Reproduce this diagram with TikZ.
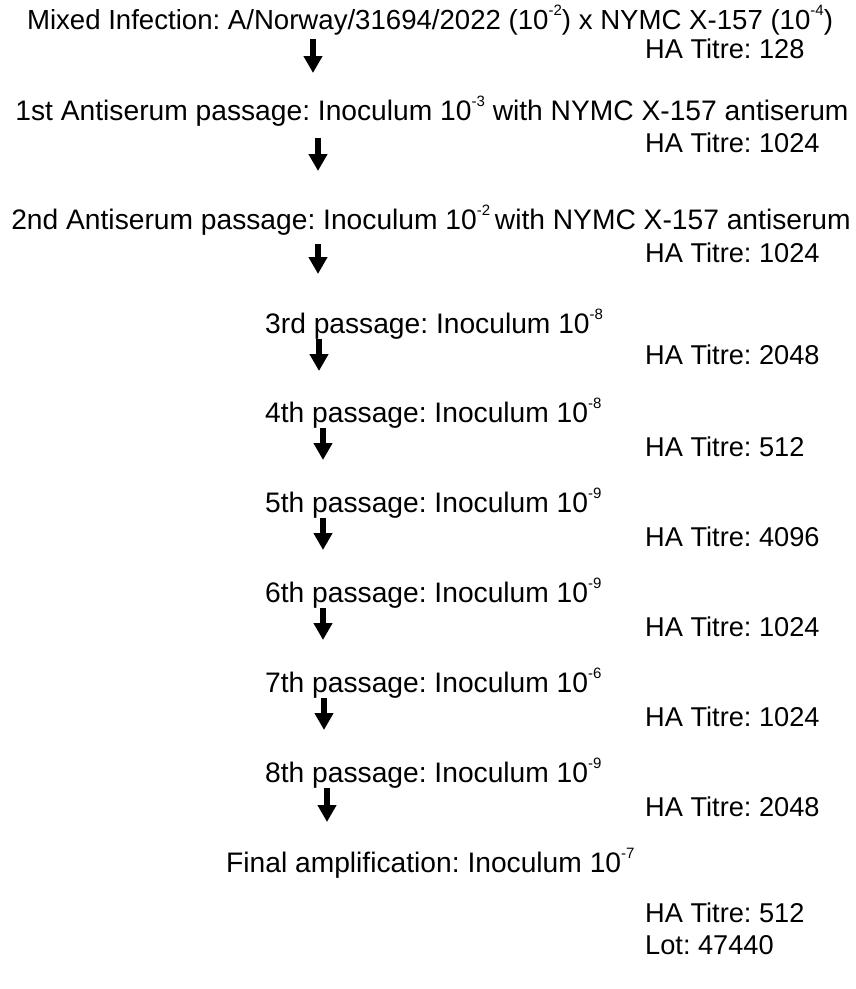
\documentclass[tikz,border=0pt]{standalone}
\usepackage{fontspec}
\setmainfont{Liberation Sans}
\usetikzlibrary{arrows.meta}
\newcommand{\supx}[1]{\raisebox{0.48em}{\fontsize{15}{15}\selectfont #1}}
\begin{document}
\frenchspacing
\begin{tikzpicture}[x=1pt,y=-1pt,
  txt/.style={inner sep=0pt,font=\fontsize{28.2}{32}\selectfont},
  lead/.style={txt,anchor=base},
  pass/.style={txt,anchor=base west},
  titre/.style={inner sep=0pt,anchor=base west,font=\fontsize{27.2}{32}\selectfont},
  downarrow/.style={line width=6pt,-{Triangle[width=18pt,length=17pt]}}]
\useasboundingbox (0,0) rectangle (856,989);
\fill[white] (0,0) rectangle (856,989);
% main lines
\node[lead,font=\fontsize{27.6}{32}\selectfont] (l1) at (430,29) {Mixed Infection: A/Norway/31694/2022 (10\supx{-2}) x NYMC X-157 (10\supx{-4})};
\node[titre] (t1) at (645,58) {HA Titre: 128};
\node[lead] (l2) at (432,120) {1st Antiserum passage: Inoculum 10\supx{-3} with NYMC X-157 antiserum};
\node[titre] (t2) at (645,152) {HA Titre: 1024};
\node[lead] (l3) at (431,229) {2nd Antiserum passage: Inoculum 10\supx{-2}\,with NYMC X-157 antiserum};
\node[titre] (t3) at (645,262) {HA Titre: 1024};
\node[pass] (l4) at (265,333) {3rd passage: Inoculum 10\supx{-8}};
\node[titre] (t4) at (645,364) {HA Titre: 2048};
\node[pass] (l5) at (265,422) {4th passage: Inoculum 10\supx{-8}};
\node[titre] (t5) at (645,456) {HA Titre: 512};
\node[pass] (l6) at (265,512) {5th passage: Inoculum 10\supx{-9}};
\node[titre] (t6) at (645,546) {HA Titre: 4096};
\node[pass] (l7) at (265,602) {6th passage: Inoculum 10\supx{-9}};
\node[titre] (t7) at (645,636) {HA Titre: 1024};
\node[pass] (l8) at (265,692) {7th passage: Inoculum 10\supx{-6}};
\node[titre] (t8) at (645,726) {HA Titre: 1024};
\node[pass] (l9) at (265,782) {8th passage: Inoculum 10\supx{-9}};
\node[titre] (t9) at (645,816) {HA Titre: 2048};
\node[pass] (l10) at (226,872) {Final amplification: Inoculum 10\supx{-7}};
\node[titre] (t10) at (645,922) {HA Titre: 512};
\node[titre] (lot) at (645,954) {Lot: 47440};
% arrows
\coordinate (a1s) at (313,39);  \coordinate (a1e) at (313,73);
\coordinate (a2s) at (318,138); \coordinate (a2e) at (318,171);
\coordinate (a3s) at (318,244); \coordinate (a3e) at (318,274);
\coordinate (a4s) at (319,339); \coordinate (a4e) at (319,371);
\coordinate (a5s) at (323,428); \coordinate (a5e) at (323,460);
\coordinate (a6s) at (323,518); \coordinate (a6e) at (323,550);
\coordinate (a7s) at (323,608); \coordinate (a7e) at (323,640);
\coordinate (a8s) at (324,698); \coordinate (a8e) at (324,730);
\coordinate (a9s) at (327,788); \coordinate (a9e) at (327,822);
\foreach \i in {1,...,9} {\draw[downarrow] (a\i s) -- (a\i e);}
\end{tikzpicture}
\end{document}
